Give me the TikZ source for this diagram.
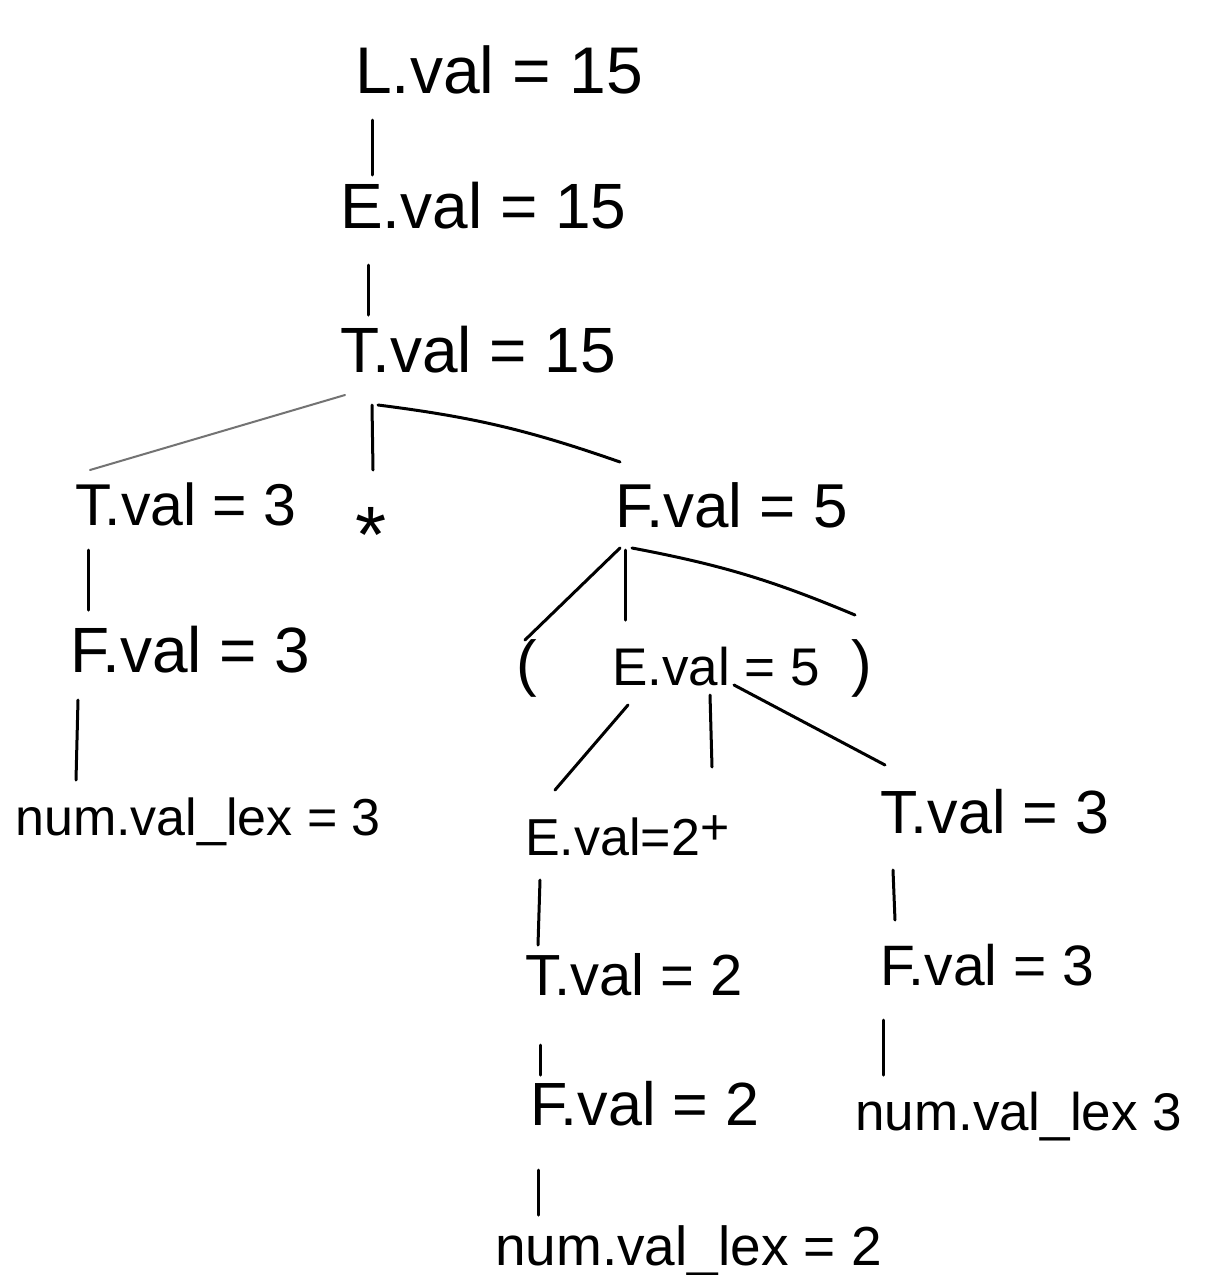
\documentclass[tikz,border=0pt]{standalone}
\usepackage{fontspec}
\setmainfont{Liberation Sans}
\usetikzlibrary{calc}
\begin{document}
\begin{tikzpicture}[x=1pt,y=-1pt,
  lbl/.style={anchor=base west,inner sep=0pt,font=\fontsize{#1}{#1}\selectfont},
  lbl/.default=58,
  sym/.style={anchor=center,inner sep=0pt,font=\fontsize{#1}{#1}\selectfont},
  sym/.default=58,
  edge/.style={line width=3pt,line cap=round,black},
  faint/.style={line width=2pt,line cap=round,black!55}]
\useasboundingbox (0,0) rectangle (1205,1275);
\fill[white] (0,0) rectangle (1205,1275);
% nodes
\node[lbl=66] (L)   at (355,93)   {L.val = 15};
\node[lbl=64] (E)   at (340,228)  {E.val = 15};
\node[lbl=64] (T)   at (340,372)  {T.val = 15};
\node[lbl=59] (T3)  at (75,525)   {T.val = 3};
\node[sym=80] (star) at (371,535) {*};
\node[lbl=62] (F5)  at (615,527)  {F.val = 5};
\node[lbl=64] (F3)  at (70,672)   {F.val = 3};
\node[lbl=52] (numL) at (15,835)  {num.val\_lex = 3};
\node[sym=62] (lp)  at (527,668)  {(};
\node[lbl=53] (E5)  at (612,685)  {E.val = 5};
\node[sym=62] (rp)  at (862,668)  {)};
\node[lbl=52] (E2)  at (525,855)  {E.val=2};
\node[sym=50] (plus) at (715,830) {+};
\node[lbl=61] (T3r) at (880,833)  {T.val = 3};
\node[lbl=58] (T2)  at (525,995)  {T.val = 2};
\node[lbl=57] (F3r) at (880,985)  {F.val = 3};
\node[lbl=61] (F2)  at (530,1125) {F.val = 2};
\node[lbl=53] (numR) at (855,1130) {num.val\_lex 3};
\node[lbl=55] (numB) at (495,1265) {num.val\_lex = 2};
% connectors
\draw[edge] ($(L.base west)+(17,27)$) -- ($(E.base west)+(32,-53)$);
\draw[edge] ($(E.base west)+(28,37)$) -- ($(T.base west)+(28,-57)$);
\draw[faint] ($(T.base west)+(5,23)$) -- ($(T3.base west)+(15,-55)$);
\draw[edge] ($(T.base west)+(32,33)$) -- ($(star)+(2,-65)$);
\draw[edge] ($(T.base west)+(38,33)$) to[bend left=6] ($(F5.base west)+(5,-65)$);
\draw[edge] ($(T3.base west)+(13,25)$) -- ($(F3.base west)+(18,-62)$);
\draw[edge] ($(F3.base west)+(8,28)$) -- ($(numL.base west)+(61,-55)$);
\draw[edge] ($(F5.base west)+(5,21)$) -- ($(lp)+(-2,-28)$);
\draw[edge] ($(F5.base west)+(10,23)$) -- ($(E5.base west)+(13,-65)$);
\draw[edge] ($(F5.base west)+(17,21)$) to[bend left=6] ($(rp)+(-7,-53)$);
\draw[edge] ($(E5.base west)+(16,20)$) -- ($(E2.base west)+(30,-65)$);
\draw[edge] ($(E5.base west)+(98,10)$) -- ($(plus)+(-3,-63)$);
\draw[edge] ($(E5.base west)+(122,0)$) -- ($(T3r.base west)+(5,-68)$);
\draw[edge] ($(E2.base west)+(15,25)$) -- ($(T2.base west)+(13,-50)$);
\draw[edge] ($(T2.base west)+(15,50)$) -- ($(F2.base west)+(10,-50)$);
\draw[edge] ($(F2.base west)+(8,45)$) -- ($(numB.base west)+(43,-50)$);
\draw[edge] ($(T3r.base west)+(13,37)$) -- ($(F3r.base west)+(15,-65)$);
\draw[edge] ($(F3r.base west)+(3,35)$) -- ($(numR.base west)+(28,-55)$);
\end{tikzpicture}
\end{document}
